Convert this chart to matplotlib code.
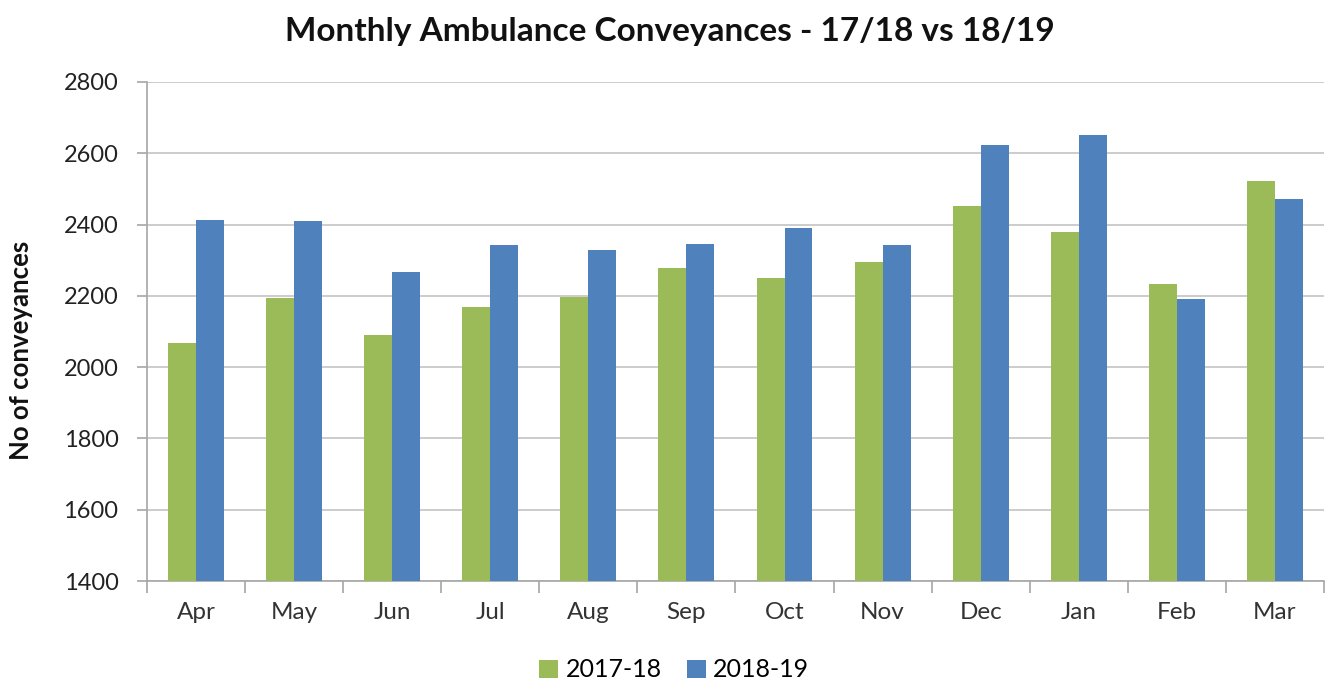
import numpy as np
import matplotlib.pyplot as plt
from matplotlib.ticker import FixedLocator

months = ["Apr", "May", "Jun", "Jul", "Aug", "Sep", "Oct", "Nov", "Dec", "Jan", "Feb", "Mar"]
conv_1718 = [2067, 2194, 2091, 2170, 2198, 2277, 2249, 2295, 2453, 2379, 2234, 2523]
conv_1819 = [2414, 2409, 2268, 2342, 2328, 2346, 2389, 2342, 2622, 2652, 2192, 2473]

plt.rcParams['font.family'] = ['Lato', 'DejaVu Sans']

fig = plt.figure(figsize=(13.29, 6.83), dpi=100)
ax = fig.add_axes([0.1106, 0.1493, 0.8856, 0.7307])

x = np.arange(len(months))
w = 0.285
ax.bar(x - w / 2, conv_1718, width=w, bottom=0, color="#9BBB59", label="2017-18", zorder=3)
ax.bar(x + w / 2, conv_1819, width=w, bottom=0, color="#4F81BD", label="2018-19", zorder=3)

ax.set_ylim(1400, 2800)
ax.set_xlim(-0.5, len(months) - 0.5)
ax.set_yticks(np.arange(1400, 2801, 200))
ax.yaxis.grid(True, color="#C8C8C8", linewidth=1.3, zorder=0)

# month names centred, tick marks on the category boundaries
ax.set_xticks(x)
ax.set_xticklabels(months, fontsize=17.5, color="#333333")
ax.xaxis.set_minor_locator(FixedLocator(np.arange(-0.5, len(months), 1)))
ax.tick_params(axis="x", which="major", length=0, pad=15)
ax.tick_params(axis="x", which="minor", length=8.5, color="#A6A6A6", width=1.2)
ax.tick_params(axis="y", length=7, color="#A6A6A6", width=1.2, labelsize=17, pad=13.5, labelcolor="#222222")

for side in ["top", "right"]:
    ax.spines[side].set_visible(False)
for side in ["left", "bottom"]:
    ax.spines[side].set_color("#A6A6A6")
    ax.spines[side].set_linewidth(1.2)

fig.text(21 / 1329, 1 - 350 / 683, "No of conveyances", fontsize=18.5, fontweight="bold",
         rotation=90, ha="center", va="center", rotation_mode="anchor", color="#111111")
fig.text(0.504, 0.954, "Monthly Ambulance Conveyances - 17/18 vs 18/19", fontsize=24,
         fontweight="bold", ha="center", va="center", color="#111111")

ax.legend(loc="upper center", bbox_to_anchor=(0.448, -0.11), ncol=2, frameon=False,
          fontsize=18, handlelength=0.75, handleheight=0.75, handletextpad=0.3, columnspacing=1.0)

fig.savefig("out.png", dpi=100)
